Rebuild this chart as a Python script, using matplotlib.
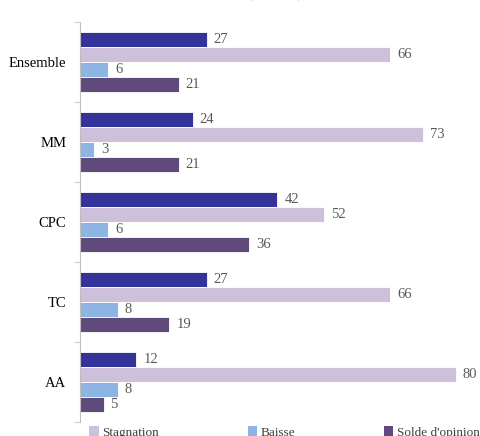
import matplotlib.pyplot as plt
from matplotlib.patches import Patch
import numpy as np

# Data
categories = ['Ensemble', 'MM', 'CPC', 'TC', 'AA']
series_names = ['Hausse', 'Stagnation', 'Baisse', "Solde d'opinion"]
hausse = [27, 24, 42, 27, 12]
stagnation = [66, 73, 52, 66, 80]
baisse = [6, 3, 6, 8, 8]
solde = [21, 21, 36, 19, 5]
colors = ['#333399', '#CCC0DA', '#8DB4E2', '#604A7B']

plt.rcParams['font.family'] = ['Liberation Serif', 'DejaVu Serif']

fig = plt.figure(figsize=(4.8, 4.36), dpi=100)
ax = fig.add_axes([0.1667, 0.0321, 0.8333, 0.9174])

y = np.arange(len(categories))
h = 0.1875
series = [hausse, stagnation, baisse, solde]
for i, (vals, c) in enumerate(zip(series, colors)):
    pos = y + (i - 1.5) * h
    bars = ax.barh(pos, vals, height=h, color=c, edgecolor='white', linewidth=0.6)
    for b, v in zip(bars, vals):
        ax.annotate(str(v), (b.get_width(), b.get_y() + b.get_height() / 2),
                    xytext=(5, 0), textcoords='offset points',
                    va='center', ha='left', fontsize=10.5, color='#595959')

ax.set_xlim(0, 85.1)
ax.set_ylim(len(categories) - 0.5, -0.5)
ax.set_yticks(y)
ax.set_yticklabels(categories, fontsize=10.5)
ax.tick_params(axis='y', length=0, pad=10)
ax.set_yticks(np.arange(-0.5, len(categories)), minor=True)
ax.tick_params(axis='y', which='minor', length=4, color='#BFBFBF', direction='out')
ax.set_xticks([])
for s in ['top', 'right', 'bottom']:
    ax.spines[s].set_visible(False)
ax.spines['left'].set_color('#BFBFBF')

# Title, cut off at the top like the reference
fig.text(0.573, 1.018, '(en %)', ha='center', va='center', fontsize=16, color='#404040')

handles = [Patch(facecolor=c, edgecolor='none') for c in colors]
fig.legend(handles, series_names, loc='center', bbox_to_anchor=(0.447, 0.008),
           ncol=4, frameon=False, fontsize=9.5, handlelength=0.7, handleheight=0.7,
           handletextpad=0.3, columnspacing=6.7, labelcolor='#404040')

fig.savefig('out.png', dpi=100)
